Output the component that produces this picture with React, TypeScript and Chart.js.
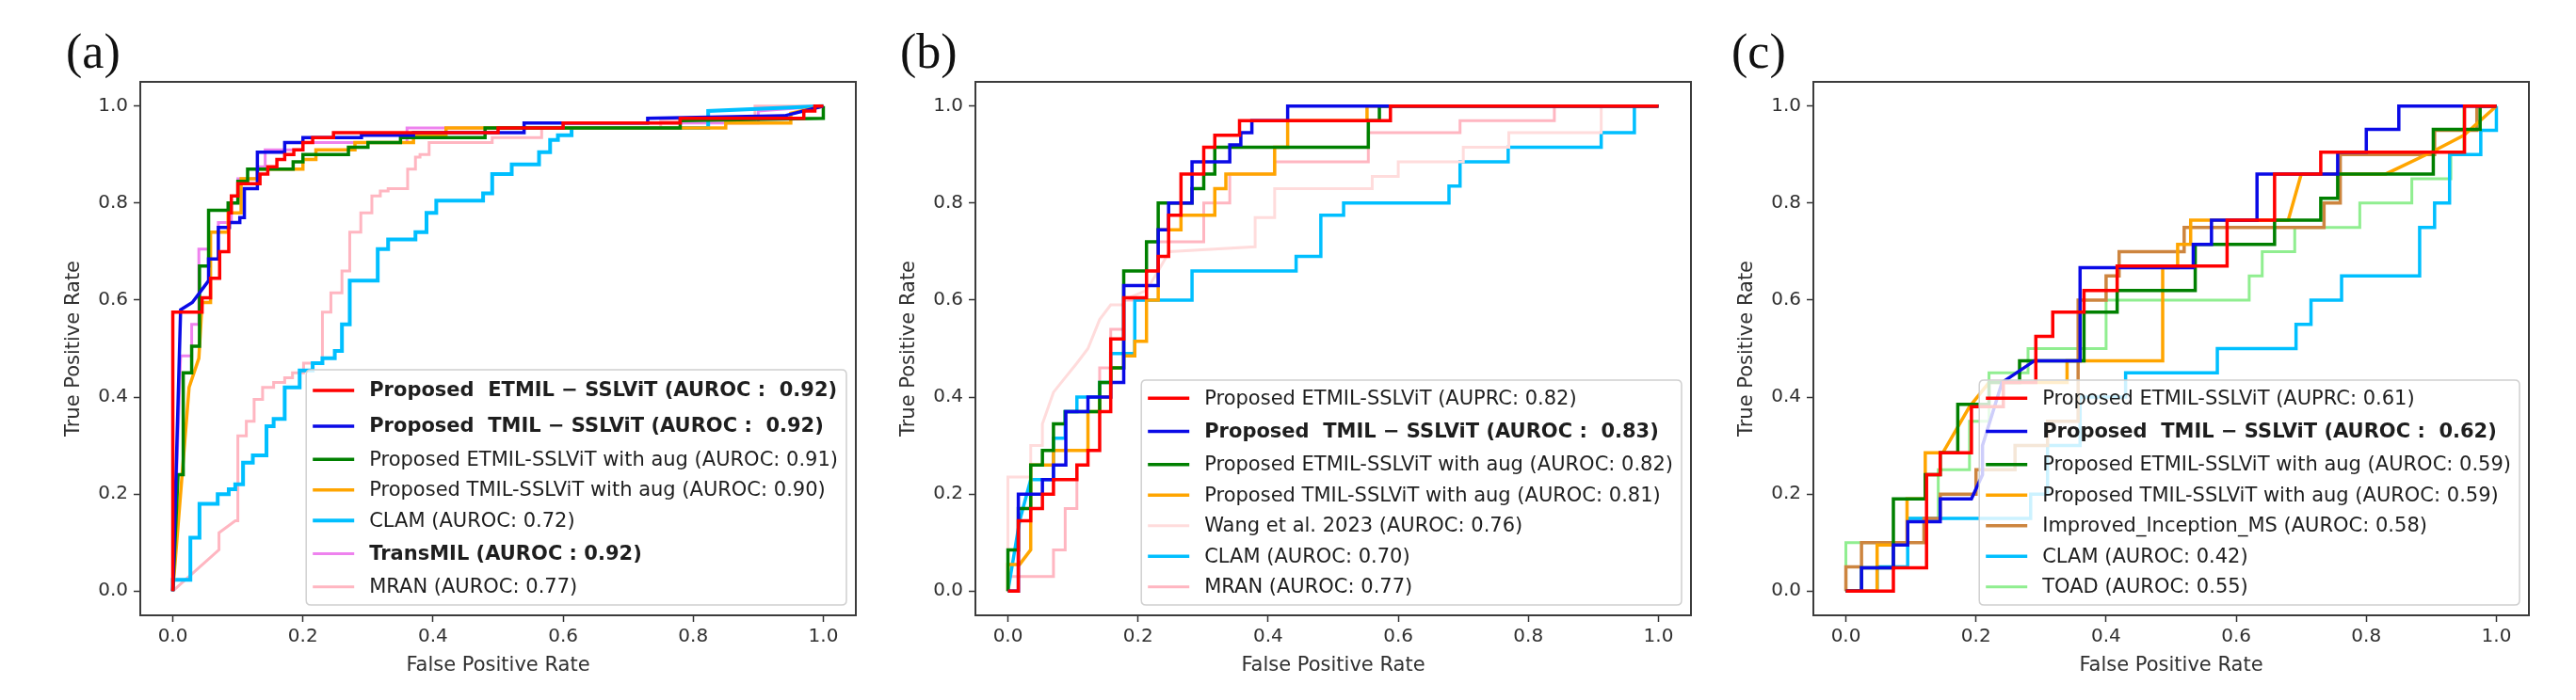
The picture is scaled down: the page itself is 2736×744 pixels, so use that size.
import React, { useEffect, useRef } from "react";
import { Chart, registerables } from "chart.js";
Chart.register(...registerables);

type Pt = [number, number];

const TICKS = [0, 0.2, 0.4, 0.6, 0.8, 1.0];
const PANEL_LABELS = ["(a)", "(b)", "(c)"];
const X_TITLE = "False Positive Rate";
const Y_TITLE = "True Positive Rate";

// ---------- Panel (a) ----------
const A_LABELS = [
  "Proposed  ETMIL \u2212 SSLViT (AUROC :  0.92)",
  "Proposed  TMIL \u2212 SSLViT (AUROC :  0.92)",
  "Proposed ETMIL-SSLViT with aug (AUROC: 0.91)",
  "Proposed TMIL-SSLViT with aug (AUROC: 0.90)",
  "CLAM (AUROC: 0.72)",
  "TransMIL (AUROC : 0.92)",
  "MRAN (AUROC: 0.77)",
];
const A_BOLD = [true, true, false, false, false, true, false];
const A_ETMIL: Pt[] = [[0,0],[0,0.575],[0.045,0.575],[0.045,0.605],[0.058,0.605],[0.058,0.645],[0.072,0.645],[0.072,0.70],[0.086,0.70],[0.086,0.78],[0.09,0.78],[0.09,0.815],[0.1,0.815],[0.1,0.84],[0.134,0.84],[0.134,0.86],[0.146,0.86],[0.146,0.875],[0.16,0.875],[0.16,0.89],[0.172,0.89],[0.172,0.90],[0.186,0.90],[0.186,0.91],[0.2,0.91],[0.2,0.925],[0.215,0.925],[0.215,0.935],[0.247,0.935],[0.247,0.945],[0.5,0.945],[0.5,0.955],[0.6,0.955],[0.6,0.965],[0.78,0.965],[0.78,0.975],[0.97,0.975],[0.97,0.99],[0.987,0.99],[0.987,1.0],[1,1]];
const A_TMIL: Pt[] = [[0,0],[0.012,0.58],[0.03,0.595],[0.055,0.64],[0.055,0.685],[0.07,0.685],[0.07,0.75],[0.087,0.75],[0.087,0.76],[0.103,0.76],[0.103,0.77],[0.11,0.77],[0.11,0.83],[0.13,0.83],[0.13,0.905],[0.172,0.905],[0.172,0.925],[0.2,0.925],[0.2,0.935],[0.29,0.935],[0.29,0.94],[0.37,0.94],[0.37,0.945],[0.54,0.945],[0.54,0.965],[0.73,0.965],[0.73,0.975],[0.94,0.98],[1,1]];
const A_ETMIL_AUG: Pt[] = [[0,0],[0.008,0.24],[0.016,0.24],[0.016,0.45],[0.029,0.45],[0.029,0.505],[0.041,0.505],[0.041,0.67],[0.055,0.67],[0.055,0.785],[0.085,0.785],[0.085,0.80],[0.1,0.80],[0.1,0.845],[0.115,0.845],[0.115,0.87],[0.185,0.87],[0.185,0.885],[0.2,0.885],[0.2,0.9],[0.27,0.9],[0.27,0.915],[0.3,0.915],[0.3,0.925],[0.35,0.925],[0.35,0.935],[0.48,0.935],[0.48,0.955],[0.78,0.955],[0.78,0.97],[1.0,0.975],[1.0,1.0]];
const A_TMIL_AUG: Pt[] = [[0,0],[0.025,0.42],[0.04,0.48],[0.045,0.595],[0.058,0.595],[0.058,0.74],[0.085,0.74],[0.085,0.78],[0.105,0.78],[0.105,0.85],[0.13,0.85],[0.13,0.87],[0.2,0.87],[0.2,0.89],[0.22,0.89],[0.22,0.91],[0.28,0.91],[0.28,0.925],[0.37,0.925],[0.37,0.94],[0.42,0.94],[0.42,0.955],[0.85,0.955],[0.85,0.965],[0.95,0.965],[0.95,0.985],[1,1]];
const A_CLAM: Pt[] = [[0,0],[0,0.023],[0.027,0.023],[0.027,0.11],[0.041,0.11],[0.041,0.18],[0.069,0.18],[0.069,0.2],[0.086,0.2],[0.086,0.21],[0.096,0.21],[0.096,0.22],[0.108,0.22],[0.108,0.265],[0.123,0.265],[0.123,0.28],[0.144,0.28],[0.144,0.34],[0.155,0.34],[0.155,0.355],[0.172,0.355],[0.172,0.42],[0.195,0.42],[0.195,0.455],[0.215,0.455],[0.215,0.47],[0.23,0.47],[0.23,0.48],[0.249,0.48],[0.249,0.495],[0.26,0.495],[0.26,0.55],[0.272,0.55],[0.272,0.64],[0.315,0.64],[0.315,0.705],[0.331,0.705],[0.331,0.725],[0.373,0.725],[0.373,0.74],[0.39,0.74],[0.39,0.78],[0.405,0.78],[0.405,0.805],[0.477,0.805],[0.477,0.82],[0.491,0.82],[0.491,0.86],[0.521,0.86],[0.521,0.88],[0.563,0.88],[0.563,0.905],[0.58,0.905],[0.58,0.93],[0.592,0.93],[0.592,0.94],[0.613,0.94],[0.613,0.955],[0.823,0.955],[0.823,0.99],[1,1]];
const A_TRANSMIL: Pt[] = [[0,0],[0.012,0.485],[0.029,0.485],[0.029,0.55],[0.04,0.55],[0.04,0.705],[0.055,0.705],[0.055,0.74],[0.07,0.74],[0.07,0.76],[0.09,0.76],[0.09,0.8],[0.1,0.8],[0.1,0.85],[0.13,0.85],[0.13,0.875],[0.142,0.875],[0.142,0.91],[0.2,0.91],[0.2,0.925],[0.36,0.925],[0.36,0.955],[0.6,0.955],[0.6,0.965],[0.9,0.965],[0.9,0.99],[1,1]];
const A_MRAN: Pt[] = [[0,0],[0.071,0.085],[0.071,0.12],[0.096,0.145],[0.1,0.145],[0.1,0.32],[0.113,0.32],[0.113,0.35],[0.125,0.35],[0.125,0.395],[0.138,0.395],[0.138,0.42],[0.155,0.42],[0.155,0.43],[0.172,0.43],[0.172,0.44],[0.184,0.44],[0.184,0.45],[0.201,0.45],[0.201,0.47],[0.23,0.47],[0.23,0.575],[0.243,0.575],[0.243,0.615],[0.26,0.615],[0.26,0.66],[0.272,0.66],[0.272,0.74],[0.289,0.74],[0.289,0.78],[0.306,0.78],[0.306,0.815],[0.319,0.815],[0.319,0.825],[0.331,0.825],[0.331,0.83],[0.361,0.83],[0.361,0.87],[0.373,0.87],[0.373,0.895],[0.38,0.895],[0.38,0.9],[0.394,0.9],[0.394,0.925],[0.491,0.925],[0.491,0.935],[0.567,0.935],[0.567,0.955],[0.75,0.955],[0.75,0.97],[0.895,0.97],[0.895,1.0],[1,1]];

// ---------- Panel (b) ----------
const B_LABELS = [
  "Proposed ETMIL-SSLViT (AUPRC: 0.82)",
  "Proposed  TMIL \u2212 SSLViT (AUROC :  0.83)",
  "Proposed ETMIL-SSLViT with aug (AUROC: 0.82)",
  "Proposed TMIL-SSLViT with aug (AUROC: 0.81)",
  "Wang et al. 2023 (AUROC: 0.76)",
  "CLAM (AUROC: 0.70)",
  "MRAN (AUROC: 0.77)",
];
const B_BOLD = [false, true, false, false, false, false, false];
const B_ETMIL: Pt[] = [[0,0],[0.016,0],[0.016,0.145],[0.035,0.145],[0.035,0.17],[0.053,0.17],[0.053,0.2],[0.07,0.2],[0.07,0.23],[0.106,0.23],[0.106,0.26],[0.123,0.26],[0.123,0.29],[0.141,0.29],[0.141,0.37],[0.158,0.37],[0.158,0.52],[0.178,0.52],[0.178,0.605],[0.213,0.605],[0.213,0.66],[0.231,0.66],[0.231,0.69],[0.247,0.69],[0.247,0.775],[0.266,0.775],[0.266,0.86],[0.301,0.86],[0.301,0.915],[0.318,0.915],[0.318,0.94],[0.356,0.94],[0.356,0.97],[0.588,0.97],[0.588,1.0],[1,1]];
const B_TMIL: Pt[] = [[0,0],[0.016,0],[0.016,0.2],[0.053,0.2],[0.053,0.23],[0.07,0.23],[0.07,0.26],[0.089,0.26],[0.089,0.37],[0.123,0.37],[0.123,0.4],[0.158,0.4],[0.158,0.43],[0.178,0.43],[0.178,0.63],[0.231,0.63],[0.231,0.745],[0.247,0.745],[0.247,0.80],[0.283,0.8],[0.283,0.885],[0.341,0.885],[0.341,0.92],[0.358,0.92],[0.358,0.945],[0.375,0.945],[0.375,0.97],[0.43,0.97],[0.43,1.0],[1,1]];
const B_ETMIL_AUG: Pt[] = [[0,0],[0,0.085],[0.016,0.085],[0.016,0.17],[0.035,0.17],[0.035,0.26],[0.053,0.26],[0.053,0.29],[0.07,0.29],[0.07,0.345],[0.088,0.345],[0.088,0.37],[0.141,0.37],[0.141,0.43],[0.158,0.43],[0.158,0.46],[0.178,0.46],[0.178,0.66],[0.213,0.66],[0.213,0.72],[0.231,0.72],[0.231,0.8],[0.283,0.8],[0.283,0.83],[0.301,0.83],[0.301,0.86],[0.318,0.86],[0.318,0.915],[0.554,0.915],[0.554,0.97],[0.571,0.97],[0.571,1.0],[1,1]];
const B_TMIL_AUG: Pt[] = [[0,0],[0,0.055],[0.018,0.055],[0.035,0.085],[0.035,0.26],[0.07,0.26],[0.07,0.29],[0.123,0.29],[0.123,0.37],[0.141,0.37],[0.141,0.4],[0.158,0.4],[0.158,0.46],[0.178,0.46],[0.178,0.485],[0.195,0.485],[0.195,0.515],[0.213,0.515],[0.213,0.6],[0.231,0.6],[0.231,0.745],[0.266,0.745],[0.266,0.775],[0.318,0.775],[0.318,0.83],[0.335,0.83],[0.335,0.86],[0.41,0.86],[0.41,0.915],[0.43,0.915],[0.43,0.97],[0.552,0.97],[0.552,1.0],[1,1]];
const B_WANG: Pt[] = [[0,0],[0,0.235],[0.035,0.235],[0.035,0.3],[0.053,0.3],[0.053,0.345],[0.07,0.41],[0.088,0.44],[0.106,0.47],[0.123,0.5],[0.141,0.56],[0.158,0.59],[0.178,0.59],[0.178,0.6],[0.213,0.62],[0.231,0.66],[0.248,0.7],[0.38,0.71],[0.38,0.77],[0.41,0.77],[0.41,0.83],[0.56,0.83],[0.56,0.855],[0.6,0.855],[0.6,0.885],[0.7,0.885],[0.7,0.915],[0.77,0.915],[0.77,0.945],[0.912,0.945],[0.912,1.0],[1,1]];
const B_CLAM: Pt[] = [[0,0],[0.018,0.145],[0.035,0.23],[0.07,0.23],[0.07,0.315],[0.088,0.315],[0.088,0.37],[0.106,0.37],[0.106,0.4],[0.141,0.4],[0.141,0.43],[0.158,0.43],[0.158,0.49],[0.195,0.49],[0.195,0.6],[0.283,0.6],[0.283,0.66],[0.443,0.66],[0.443,0.69],[0.481,0.69],[0.481,0.775],[0.516,0.775],[0.516,0.8],[0.678,0.8],[0.678,0.835],[0.695,0.835],[0.695,0.885],[0.769,0.885],[0.769,0.915],[0.912,0.915],[0.912,0.945],[0.963,0.945],[0.963,1.0],[1,1]];
const B_MRAN: Pt[] = [[0,0],[0,0.03],[0.07,0.03],[0.07,0.085],[0.088,0.085],[0.088,0.17],[0.106,0.17],[0.106,0.26],[0.123,0.26],[0.123,0.37],[0.141,0.37],[0.141,0.46],[0.158,0.46],[0.158,0.54],[0.178,0.54],[0.178,0.6],[0.213,0.6],[0.213,0.66],[0.231,0.66],[0.231,0.72],[0.301,0.72],[0.301,0.8],[0.341,0.8],[0.341,0.86],[0.41,0.86],[0.41,0.885],[0.554,0.885],[0.554,0.945],[0.695,0.945],[0.695,0.97],[0.84,0.97],[0.84,1.0],[1,1]];

// ---------- Panel (c) ----------
const C_LABELS = [
  "Proposed ETMIL-SSLViT (AUPRC: 0.61)",
  "Proposed  TMIL \u2212 SSLViT (AUROC :  0.62)",
  "Proposed ETMIL-SSLViT with aug (AUROC: 0.59)",
  "Proposed TMIL-SSLViT with aug (AUROC: 0.59)",
  "Improved_Inception_MS (AUROC: 0.58)",
  "CLAM (AUROC: 0.42)",
  "TOAD (AUROC: 0.55)",
];
const C_BOLD = [false, true, false, false, false, false, false];
const C_ETMIL: Pt[] = [[0,0],[0.073,0],[0.073,0.048],[0.124,0.048],[0.124,0.24],[0.145,0.24],[0.145,0.285],[0.193,0.285],[0.193,0.38],[0.242,0.38],[0.242,0.43],[0.292,0.43],[0.292,0.525],[0.318,0.525],[0.318,0.575],[0.366,0.575],[0.366,0.62],[0.417,0.62],[0.417,0.67],[0.586,0.67],[0.586,0.765],[0.659,0.765],[0.659,0.86],[0.73,0.86],[0.73,0.905],[0.951,0.905],[0.951,1.0],[1,1]];
const C_TMIL: Pt[] = [[0,0],[0.024,0],[0.024,0.048],[0.073,0.048],[0.073,0.095],[0.095,0.095],[0.095,0.143],[0.145,0.143],[0.145,0.19],[0.193,0.19],[0.21,0.24],[0.21,0.3],[0.24,0.43],[0.29,0.475],[0.36,0.475],[0.36,0.667],[0.534,0.667],[0.534,0.715],[0.562,0.715],[0.562,0.765],[0.632,0.765],[0.632,0.86],[0.756,0.86],[0.756,0.905],[0.8,0.905],[0.8,0.952],[0.85,0.952],[0.85,1.0],[1,1]];
const C_ETMIL_AUG: Pt[] = [[0,0],[0.024,0],[0.024,0.048],[0.073,0.048],[0.073,0.19],[0.122,0.19],[0.122,0.24],[0.145,0.24],[0.145,0.285],[0.172,0.285],[0.172,0.385],[0.22,0.385],[0.22,0.43],[0.267,0.43],[0.267,0.475],[0.366,0.475],[0.366,0.575],[0.417,0.575],[0.417,0.62],[0.537,0.62],[0.537,0.715],[0.659,0.715],[0.659,0.765],[0.73,0.765],[0.73,0.81],[0.756,0.81],[0.756,0.86],[0.903,0.86],[0.903,0.952],[0.975,0.952],[0.975,1.0],[1,1]];
const C_TMIL_AUG: Pt[] = [[0,0],[0.048,0],[0.048,0.095],[0.094,0.095],[0.094,0.19],[0.122,0.19],[0.122,0.285],[0.149,0.285],[0.19,0.38],[0.22,0.43],[0.34,0.43],[0.34,0.475],[0.487,0.475],[0.487,0.667],[0.51,0.667],[0.51,0.715],[0.53,0.715],[0.53,0.765],[0.68,0.765],[0.7,0.86],[0.83,0.86],[0.9,0.905],[0.95,0.94],[1,1]];
const C_INCEPTION: Pt[] = [[0,0],[0,0.05],[0.024,0.05],[0.024,0.1],[0.12,0.1],[0.12,0.15],[0.145,0.15],[0.145,0.2],[0.2,0.2],[0.2,0.25],[0.26,0.25],[0.26,0.3],[0.31,0.3],[0.31,0.35],[0.357,0.35],[0.357,0.6],[0.4,0.6],[0.4,0.65],[0.42,0.65],[0.42,0.7],[0.52,0.7],[0.52,0.75],[0.735,0.75],[0.735,0.8],[0.76,0.8],[0.76,0.9],[0.905,0.9],[0.905,0.95],[0.97,0.95],[0.97,1.0],[1,1]];
const C_CLAM: Pt[] = [[0,0],[0.048,0],[0.048,0.05],[0.095,0.05],[0.095,0.15],[0.284,0.15],[0.284,0.2],[0.31,0.2],[0.31,0.3],[0.36,0.3],[0.36,0.4],[0.43,0.4],[0.43,0.45],[0.571,0.45],[0.571,0.5],[0.692,0.5],[0.692,0.55],[0.715,0.55],[0.715,0.6],[0.762,0.6],[0.762,0.65],[0.882,0.65],[0.882,0.75],[0.905,0.75],[0.905,0.8],[0.928,0.8],[0.928,0.9],[0.976,0.9],[0.976,0.95],[1,0.95],[1,1]];
const C_TOAD: Pt[] = [[0,0],[0,0.1],[0.095,0.1],[0.095,0.15],[0.142,0.15],[0.142,0.25],[0.19,0.25],[0.19,0.35],[0.22,0.35],[0.22,0.45],[0.28,0.45],[0.28,0.5],[0.4,0.5],[0.4,0.6],[0.62,0.6],[0.62,0.65],[0.64,0.65],[0.64,0.7],[0.69,0.7],[0.69,0.75],[0.79,0.75],[0.79,0.8],[0.87,0.8],[0.87,0.85],[0.93,0.85],[0.93,0.9],[0.95,0.9],[0.95,1.0],[1,1]];

const RED = "#ff0000";
const BLUE = "#0a0ae6";
const GREEN = "#008000";
const ORANGE = "#ffa500";
const CLAM_C = "#00bfff";
const VIOLET = "#ee82ee";
const PINK = "#ffb6c1";
const MISTY = "#ffdcdc";
const LGREEN = "#90ee90";
const PERU = "#cd853f";

type Series = { label: string; pts: Pt[]; color: string; width: number; bold: boolean };

const PANELS: Series[][] = [
  [
    { label: A_LABELS[0], pts: A_ETMIL, color: RED, width: 3.5, bold: A_BOLD[0] },
    { label: A_LABELS[1], pts: A_TMIL, color: BLUE, width: 3.5, bold: A_BOLD[1] },
    { label: A_LABELS[2], pts: A_ETMIL_AUG, color: GREEN, width: 3.5, bold: A_BOLD[2] },
    { label: A_LABELS[3], pts: A_TMIL_AUG, color: ORANGE, width: 3.5, bold: A_BOLD[3] },
    { label: A_LABELS[4], pts: A_CLAM, color: CLAM_C, width: 4, bold: A_BOLD[4] },
    { label: A_LABELS[5], pts: A_TRANSMIL, color: VIOLET, width: 3, bold: A_BOLD[5] },
    { label: A_LABELS[6], pts: A_MRAN, color: PINK, width: 3, bold: A_BOLD[6] },
  ],
  [
    { label: B_LABELS[0], pts: B_ETMIL, color: RED, width: 3.5, bold: B_BOLD[0] },
    { label: B_LABELS[1], pts: B_TMIL, color: BLUE, width: 3.5, bold: B_BOLD[1] },
    { label: B_LABELS[2], pts: B_ETMIL_AUG, color: GREEN, width: 3.5, bold: B_BOLD[2] },
    { label: B_LABELS[3], pts: B_TMIL_AUG, color: ORANGE, width: 3.5, bold: B_BOLD[3] },
    { label: B_LABELS[4], pts: B_WANG, color: MISTY, width: 3, bold: B_BOLD[4] },
    { label: B_LABELS[5], pts: B_CLAM, color: CLAM_C, width: 3.5, bold: B_BOLD[5] },
    { label: B_LABELS[6], pts: B_MRAN, color: PINK, width: 3, bold: B_BOLD[6] },
  ],
  [
    { label: C_LABELS[0], pts: C_ETMIL, color: RED, width: 3.5, bold: C_BOLD[0] },
    { label: C_LABELS[1], pts: C_TMIL, color: BLUE, width: 3.5, bold: C_BOLD[1] },
    { label: C_LABELS[2], pts: C_ETMIL_AUG, color: GREEN, width: 3.5, bold: C_BOLD[2] },
    { label: C_LABELS[3], pts: C_TMIL_AUG, color: ORANGE, width: 3.5, bold: C_BOLD[3] },
    { label: C_LABELS[4], pts: C_INCEPTION, color: PERU, width: 3.5, bold: C_BOLD[4] },
    { label: C_LABELS[5], pts: C_CLAM, color: CLAM_C, width: 3.5, bold: C_BOLD[5] },
    { label: C_LABELS[6], pts: C_TOAD, color: LGREEN, width: 3, bold: C_BOLD[6] },
  ],
];

const FONT = '"DejaVu Sans", sans-serif';
const CANVAS_W = 930;
const CANVAS_H = 744;
const CANVAS_LEFTS = [0, 887, 1777];
const LABEL_LEFTS = [70, 956, 1839];

const framePlugin = {
  id: "rocFrame",
  afterDraw(chart: any) {
    const { ctx, chartArea: a } = chart;
    ctx.save();
    ctx.strokeStyle = "#3c3c3c";
    ctx.lineWidth = 2;
    ctx.strokeRect(a.left, a.top, a.right - a.left, a.bottom - a.top);
    ctx.restore();
  },
};

const legendPlugin = {
  id: "rocLegend",
  afterDraw(chart: any, _args: any, opts: any) {
    const items: Series[] = opts && opts.items;
    if (!items) return;
    const { ctx, chartArea: a } = chart;
    const normal = `21px ${FONT}`;
    const bold = `bold 21px ${FONT}`;
    let maxW = 0;
    items.forEach((it) => {
      ctx.font = it.bold ? bold : normal;
      maxW = Math.max(maxW, ctx.measureText(it.label).width);
    });
    const rows = items.map((it) => (it.bold ? 38 : 32.5));
    const total = 6 + rows.reduce((s, h) => s + h, 0);
    const right = a.right - 10;
    const bottom = a.bottom - 11;
    const left = right - (67 + maxW + 9);
    const top = bottom - total;
    ctx.save();
    const r = 5;
    ctx.beginPath();
    ctx.moveTo(left + r, top);
    ctx.lineTo(right - r, top);
    ctx.quadraticCurveTo(right, top, right, top + r);
    ctx.lineTo(right, bottom - r);
    ctx.quadraticCurveTo(right, bottom, right - r, bottom);
    ctx.lineTo(left + r, bottom);
    ctx.quadraticCurveTo(left, bottom, left, bottom - r);
    ctx.lineTo(left, top + r);
    ctx.quadraticCurveTo(left, top, left + r, top);
    ctx.closePath();
    ctx.fillStyle = "rgba(255,255,255,0.8)";
    ctx.fill();
    ctx.strokeStyle = "#d0d0d0";
    ctx.lineWidth = 1.5;
    ctx.stroke();
    let y = top + 3;
    items.forEach((it, i) => {
      const cy = y + rows[i] / 2;
      ctx.strokeStyle = it.color;
      ctx.lineWidth = it.width;
      ctx.beginPath();
      ctx.moveTo(left + 7, cy);
      ctx.lineTo(left + 51, cy);
      ctx.stroke();
      ctx.font = it.bold ? bold : normal;
      ctx.fillStyle = "#1e1e1e";
      ctx.textBaseline = "middle";
      ctx.textAlign = "left";
      ctx.fillText(it.label, left + 67, cy + 1);
      y += rows[i];
    });
    ctx.restore();
  },
};

function axis(title: string, horizontal: boolean) {
  return {
    type: "linear" as const,
    position: horizontal ? "bottom" : "left",
    min: -0.05,
    max: 1.05,
    afterBuildTicks: (s: any) => {
      s.ticks = TICKS.map((v) => ({ value: v }));
    },
    afterFit: (s: any) => {
      if (horizontal) s.height = 90;
      else s.width = 149;
    },
    ticks: {
      callback: (v: any) => Number(v).toFixed(1),
      font: { family: FONT, size: 20 },
      color: "#303030",
      padding: horizontal ? 4 : 6,
      maxRotation: 0,
      autoSkip: false,
    },
    grid: {
      display: true,
      drawOnChartArea: false,
      drawTicks: true,
      tickLength: 7,
      tickWidth: 1.5,
      tickColor: "#333333",
    },
    border: { display: false },
    title: {
      display: true,
      text: title,
      font: { family: FONT, size: 21 },
      color: "#303030",
      padding: horizontal ? { top: 0, bottom: 24 } : { top: 66, bottom: 0 },
    },
  };
}

function Panel({ index }: { index: number }) {
  const ref = useRef<HTMLCanvasElement | null>(null);
  useEffect(() => {
    if (!ref.current) return;
    const series = PANELS[index];
    const chart = new Chart(ref.current, {
      type: "line",
      data: {
        datasets: series.map((s) => ({
          label: s.label,
          data: s.pts.map(([x, y]) => ({ x, y })),
          borderColor: s.color,
          backgroundColor: s.color,
          borderWidth: s.width,
          pointRadius: 0,
          fill: false,
          tension: 0,
          borderJoinStyle: "miter" as const,
        })),
      },
      options: {
        responsive: false,
        maintainAspectRatio: false,
        animation: false,
        events: [],
        layout: { padding: { left: 0, top: 87, right: 21, bottom: 0 } },
        scales: {
          x: axis(X_TITLE, true) as any,
          y: axis(Y_TITLE, false) as any,
        },
        plugins: {
          legend: { display: false },
          tooltip: { enabled: false },
          rocLegend: { items: series },
        } as any,
      },
      plugins: [framePlugin, legendPlugin],
    });
    return () => chart.destroy();
  }, [index]);
  return (
    <canvas
      ref={ref}
      width={CANVAS_W}
      height={CANVAS_H}
      style={{ position: "absolute", left: CANVAS_LEFTS[index], top: 0, width: CANVAS_W, height: CANVAS_H }}
    />
  );
}

export default function App() {
  return (
    <div
      style={{
        position: "absolute",
        left: 0,
        top: 0,
        width: 2736,
        height: 744,
        background: "#ffffff",
        overflow: "hidden",
      }}
    >
      {[0, 1, 2].map((i) => (
        <Panel key={i} index={i} />
      ))}
      {PANEL_LABELS.map((t, i) => (
        <div
          key={t}
          style={{
            position: "absolute",
            left: LABEL_LEFTS[i],
            top: 29,
            fontFamily: '"Liberation Serif", "Times New Roman", serif',
            fontSize: 52,
            lineHeight: 1,
            color: "#111",
            whiteSpace: "nowrap",
          }}
        >
          {t}
        </div>
      ))}
    </div>
  );
}
